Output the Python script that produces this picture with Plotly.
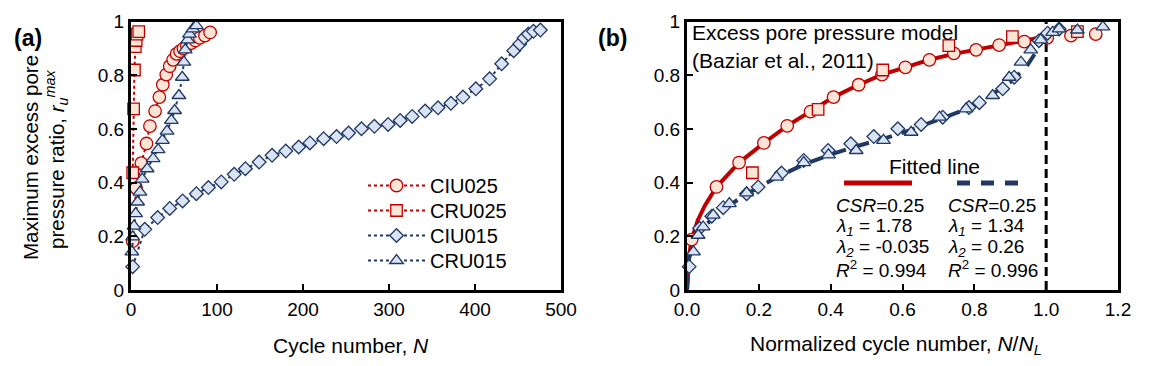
import plotly.graph_objects as go

# ---------------- data: panel (a) ----------------
ciu025_N = [2, 6, 12, 18, 22, 28, 33, 37, 41, 45, 49, 53, 57, 61, 65, 70, 75, 80, 86, 92]
ciu025_r = [0.182, 0.38, 0.473, 0.546, 0.611, 0.667, 0.719, 0.765, 0.803, 0.834, 0.858, 0.88,
            0.89, 0.90, 0.91, 0.92, 0.93, 0.94, 0.948, 0.96]
cru025_N = [2, 3, 4, 5, 6, 7, 9]
cru025_r = [0.437, 0.675, 0.82, 0.907, 0.93, 0.954, 0.963]
ciu015_N = [2, 16, 31, 45, 60, 76, 90, 105, 120, 133, 149, 164, 180, 195, 208, 224, 239, 253,
            268, 283, 299, 313, 327, 342, 357, 372, 386, 401, 417, 431, 445, 452, 457, 462, 468, 476]
ciu015_r = [0.087, 0.226, 0.27, 0.304, 0.332, 0.359, 0.382, 0.403, 0.431, 0.452, 0.477, 0.502,
            0.518, 0.533, 0.548, 0.564, 0.572, 0.585, 0.601, 0.61, 0.617, 0.632, 0.647, 0.667,
            0.679, 0.696, 0.719, 0.75, 0.787, 0.843, 0.892, 0.917, 0.939, 0.954, 0.964, 0.969]
cru015_N = [1, 2, 3.5, 5.4, 7.7, 10.4, 13, 18.8, 25.7, 31.5, 36.5, 41.9, 46.9, 50.7, 55.7, 59.6,
            61.5, 63, 66, 68, 72, 76]
cru015_r = [0.142, 0.198, 0.238, 0.285, 0.328, 0.365, 0.413, 0.452, 0.49, 0.523, 0.558, 0.592,
            0.632, 0.669, 0.725, 0.793, 0.849, 0.895, 0.932, 0.954, 0.973, 0.985]

# ---------------- data: panel (b) ----------------
ciu025_nn = [0.013, 0.082, 0.145, 0.214, 0.279, 0.344, 0.408, 0.478, 0.543, 0.608, 0.675, 0.743,
             0.805, 0.869, 0.939, 1.003, 1.069, 1.138]
ciu025_rb = [0.188, 0.384, 0.475, 0.548, 0.612, 0.665, 0.719, 0.765, 0.803, 0.83, 0.858, 0.882,
             0.895, 0.913, 0.926, 0.94, 0.948, 0.954]
cru025_nn = [0.182, 0.365, 0.545, 0.729, 0.906, 1.087]
cru025_rb = [0.437, 0.673, 0.82, 0.911, 0.944, 0.963]
ciu015_nn = [0.006, 0.035, 0.069, 0.101, 0.166, 0.198, 0.263, 0.325, 0.393, 0.456, 0.52, 0.587,
             0.652, 0.712, 0.785, 0.814, 0.879, 0.911, 0.98, 1.004, 1.036]
ciu015_rb = [0.087, 0.23, 0.275, 0.307, 0.359, 0.384, 0.436, 0.483, 0.52, 0.545, 0.572, 0.601,
             0.617, 0.644, 0.68, 0.698, 0.75, 0.793, 0.929, 0.957, 0.973]
cru015_nn = [0.018, 0.031, 0.045, 0.073, 0.118, 0.166, 0.249, 0.325, 0.394, 0.471, 0.547, 0.624,
             0.703, 0.777, 0.851, 0.897, 0.93, 0.957, 0.985, 1.018, 1.036, 1.087, 1.158]
cru015_rb = [0.142, 0.204, 0.235, 0.279, 0.322, 0.362, 0.421, 0.475, 0.504, 0.52, 0.558, 0.588,
             0.644, 0.675, 0.725, 0.793, 0.849, 0.895, 0.932, 0.96, 0.973, 0.969, 0.981]

fit025_x = [0, 0.002, 0.006, 0.013, 0.03, 0.05, 0.082, 0.145, 0.214, 0.279, 0.344, 0.408, 0.478,
            0.543, 0.608, 0.675, 0.743, 0.805, 0.869, 0.939, 1.0]
fit025_y = [0, 0.08, 0.13, 0.188, 0.26, 0.315, 0.384, 0.475, 0.548, 0.612, 0.665, 0.719, 0.765,
            0.803, 0.83, 0.858, 0.88, 0.895, 0.913, 0.93, 0.945]
fit015_x = [0, 0.002, 0.006, 0.02, 0.05, 0.1, 0.166, 0.25, 0.325, 0.4, 0.47, 0.55, 0.62, 0.7,
            0.78, 0.85, 0.9, 0.944, 0.98, 1.0]
fit015_y = [0, 0.07, 0.12, 0.18, 0.24, 0.3, 0.358, 0.42, 0.468, 0.505, 0.535, 0.565, 0.595,
            0.635, 0.675, 0.73, 0.775, 0.83, 0.904, 0.96]

NL_line = [1.0, 1.0]
NL_r = [0, 1]

legend_names = ["CIU025", "CRU025", "CIU015", "CRU015"]

RED = "#C00000"
PEACH = "#FBE5D6"
NAVY = "#1F3864"
LBLUE = "#DAE3F3"
FONT = "Liberation Sans, Arial, sans-serif"

W, H = 1157, 366
S = 8  # page body margin offset


def px_x(p):
    return (p - S) / W


def px_y(p):
    return (H - (p - S)) / H


fig = go.Figure()

styles = [
    (ciu025_N, ciu025_r, ciu025_nn, ciu025_rb, "circle", 12.5, RED, PEACH),
    (cru025_N, cru025_r, cru025_nn, cru025_rb, "square", 11.5, RED, PEACH),
    (ciu015_N, ciu015_r, ciu015_nn, ciu015_rb, "diamond", 10.5, NAVY, LBLUE),
    (cru015_N, cru015_r, cru015_nn, cru015_rb, "triangle-up", 12, NAVY, LBLUE),
]

# panel (b) fitted lines (below markers)
fig.add_trace(go.Scatter(x=fit025_x, y=fit025_y, mode="lines", xaxis="x2", yaxis="y2",
                         line=dict(color=RED, width=4), showlegend=False, cliponaxis=False))
fig.add_trace(go.Scatter(x=fit015_x, y=fit015_y, mode="lines", xaxis="x2", yaxis="y2",
                         line=dict(color=NAVY, width=4, dash="14px,10px"), showlegend=False,
                         cliponaxis=False))
fig.add_trace(go.Scatter(x=NL_line, y=NL_r, mode="lines", xaxis="x2", yaxis="y2",
                         line=dict(color="black", width=3, dash="9px,5px"), showlegend=False))

legend_ids = ["legend", "legend2", "legend3", "legend4"]
for (n, r, nn, rb, sym, size, lc, fc), name, lid in zip(styles, legend_names, legend_ids):
    fig.add_trace(go.Scatter(
        x=n, y=r, mode="lines+markers", name=name, xaxis="x", yaxis="y", legend=lid,
        line=dict(color=lc, width=2, dash="dot"),
        marker=dict(symbol=sym, size=size, color=fc, line=dict(color=lc, width=1.3)),
        cliponaxis=False))
    fig.add_trace(go.Scatter(
        x=nn, y=rb, mode="markers", name=name, xaxis="x2", yaxis="y2", showlegend=False,
        marker=dict(symbol=sym, size=size, color=fc, line=dict(color=lc, width=1.3)),
        cliponaxis=False))

axis_common = dict(showline=True, linewidth=3, linecolor="black", mirror=True, ticks="inside",
                   ticklen=6, tickwidth=2, tickcolor="black", showgrid=False, zeroline=False,
                   automargin=False, tickfont=dict(family=FONT, size=19, color="black"))

legend_rows = [185, 210, 235, 260]
legends = {}
for lid, rc in zip(legend_ids, legend_rows):
    legends[lid] = dict(x=px_x(363), y=px_y(rc - 19), xanchor="left", yanchor="top",
                        bgcolor="rgba(0,0,0,0)", font=dict(family=FONT, size=20, color="black"),
                        itemwidth=57)

fig.update_layout(
    width=W, height=H,
    margin=dict(l=0, r=0, t=0, b=0, autoexpand=False),
    paper_bgcolor="white", plot_bgcolor="white",
    font=dict(family=FONT, size=20, color="black"),
    xaxis=dict(domain=[px_x(131), px_x(561)], range=[0, 500], dtick=100, anchor="y",
               **axis_common),
    yaxis=dict(domain=[px_y(290), px_y(21.7)], range=[0, 1], dtick=0.2, anchor="x",
               **axis_common),
    xaxis2=dict(domain=[px_x(687), px_x(1118)], range=[0, 1.2], dtick=0.2, tickformat=".1f",
                anchor="y2", **axis_common),
    yaxis2=dict(domain=[px_y(290), px_y(21.7)], range=[0, 1], dtick=0.2, anchor="x2",
                **axis_common),
    **legends,
)

ann = []


def add_text(text, x, y, xanchor="center", size=20, angle=0, bold=False):
    ann.append(dict(text=("<b>%s</b>" % text) if bold else text, x=px_x(x), y=px_y(y),
                    xref="paper", yref="paper", xanchor=xanchor, yanchor="middle",
                    showarrow=False, textangle=angle,
                    font=dict(family=FONT, size=size, color="black")))


add_text("(a)", 28, 38, size=23, bold=True)
add_text("(b)", 612, 38, size=23, bold=True)
add_text("Maximum excess pore", 30, 158, angle=-90, size=20.5)
add_text("pressure ratio, <i>r<sub>u</sub><sup>max</sup></i>", 56, 160, angle=-90, size=20.5)
add_text("Cycle number, <i>N</i>", 351, 345, size=21)
add_text("Normalized cycle number, <i>N</i>/<i>N<sub>L</sub></i>", 896, 345, size=21)
add_text("Excess pore pressure model", 690, 33, xanchor="left", size=21)
add_text("(Baziar et al., 2011)", 690, 60, xanchor="left", size=21)
add_text("Fitted line", 934, 166, size=21)
rows_y = [205, 227, 248, 269]
left_col = ["<i>CSR</i>=0.25", "<i>λ<sub>1</sub></i> = 1.78", "<i>λ<sub>2</sub></i> = -0.035",
            "<i>R</i><sup>2</sup> = 0.994"]
right_col = ["<i>CSR</i>=0.25", "<i>λ<sub>1</sub></i> = 1.34", "<i>λ<sub>2</sub></i> = 0.26",
             "<i>R</i><sup>2</sup> = 0.996"]
for t, yy in zip(left_col, rows_y):
    add_text(t, 834, yy, xanchor="left", size=19)
for t, yy in zip(right_col, rows_y):
    add_text(t, 946, yy, xanchor="left", size=19)

fig.update_layout(annotations=ann)

# legend samples for fitted lines
fig.add_shape(type="line", xref="paper", yref="paper", x0=px_x(844), x1=px_x(912),
              y0=px_y(183), y1=px_y(183), line=dict(color=RED, width=5))
fig.add_shape(type="line", xref="paper", yref="paper", x0=px_x(957), x1=px_x(1020),
              y0=px_y(183), y1=px_y(183), line=dict(color=NAVY, width=5, dash="13px,11px"))

fig.write_html("out.html")
